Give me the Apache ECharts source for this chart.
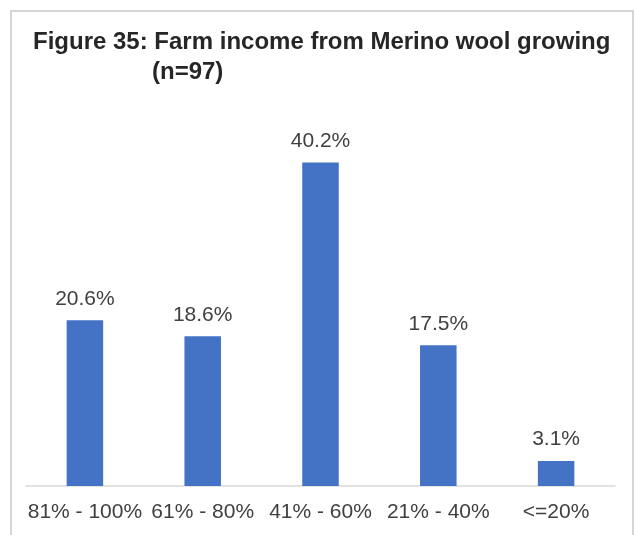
<!DOCTYPE html>
<html>
<head>
<meta charset="utf-8">
<script src="https://cdn.jsdelivr.net/npm/echarts@6/dist/echarts.min.js"></script>
<style>
  html, body { margin: 0; padding: 0; background: #fff; }
  #chart { width: 635px; height: 535px; }
</style>
</head>
<body>
<div id="chart"></div>
<script>
// categories and values
const categories = ['81% - 100%', '61% - 80%', '41% - 60%', '21% - 40%', '<=20%']
const shares = [20.6, 18.6, 40.2, 17.5, 3.1]

const myChart = echarts.init(document.getElementById('chart'))

const option = {
  animation: false,
  title: [
    {
      text: 'Figure 35: Farm income from Merino wool growing',
      left: 33,
      top: 30,
      padding: 0,
      textStyle: { fontFamily: 'Liberation Sans, Arial', fontSize: 24, fontWeight: 'bold', color: '#262626' },
    },
    {
      text: '(n=97)',
      left: 152,
      top: 60,
      padding: 0,
      textStyle: { fontFamily: 'Liberation Sans, Arial', fontSize: 24, fontWeight: 'bold', color: '#262626' },
    },
  ],
  graphic: [
    {
      type: 'rect',
      shape: { x: 11, y: 11, width: 622, height: 600 },
      style: { fill: 'none', stroke: '#c8c8c8', lineWidth: 1.5 },
      silent: true,
    },
  ],
  grid: { left: 26, right: 20, top: 124, bottom: 49 },
  xAxis: {
    type: 'category',
    data: categories,
    axisTick: { show: false },
    axisLine: { lineStyle: { color: '#d9d9d9', width: 1.5 } },
    axisLabel: {
      interval: 0,
      margin: 16,
      color: '#404040',
      fontFamily: 'Liberation Sans, Arial',
      fontSize: 21,
    },
  },
  yAxis: {
    type: 'value',
    min: 0,
    max: 45,
    show: false,
    splitLine: { show: false },
  },
  series: [
    {
      type: 'bar',
      data: shares,
      barWidth: '31%',
      itemStyle: { color: '#4472C4' },
      label: {
        show: true,
        position: 'top',
        distance: 11,
        formatter: (p) => p.value.toFixed(1) + '%',
        color: '#404040',
        fontFamily: 'Liberation Sans, Arial',
        fontSize: 21,
      },
    },
  ],
}

myChart.setOption(option)
</script>
</body>
</html>
